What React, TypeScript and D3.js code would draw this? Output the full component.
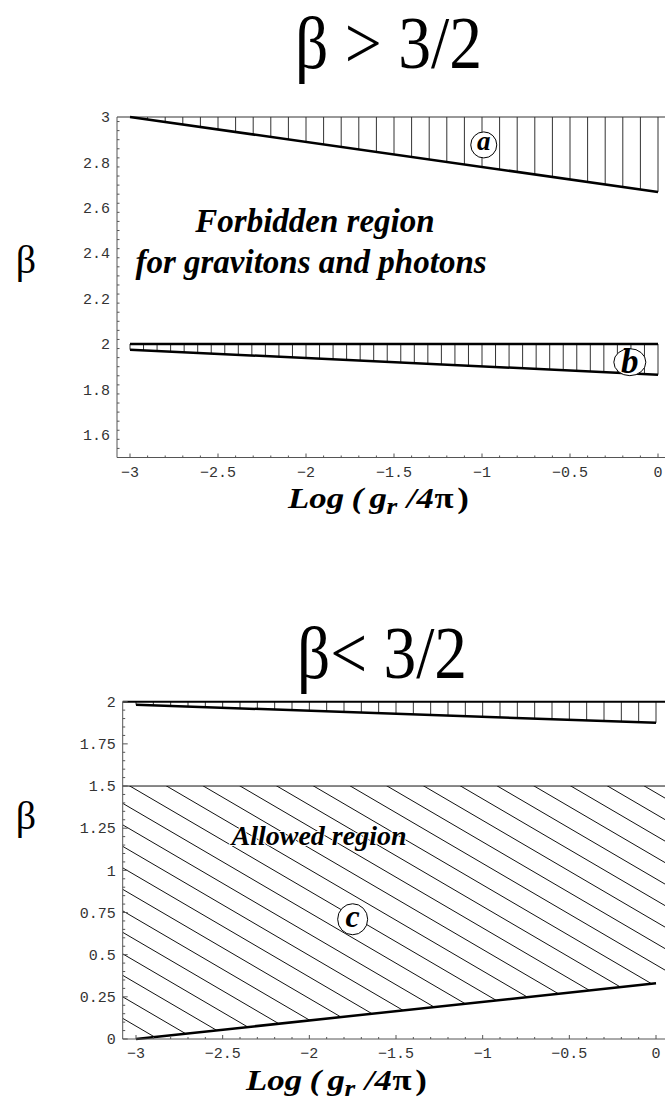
import React, { useEffect, useRef } from 'react';
import { select, scaleLinear, range } from 'd3';

// boundary curves, beta vs log(g_r / 4pi), straight segments between the end points
const logG = [-3, 0];
const topA = [3, 3];
const lowA = [3.0, 2.67];
const topB = [2, 2];
const lowB = [1.975, 1.865];
const topBand = [2, 2];
const lowBand = [1.982, 1.875];
const allowedTop = 1.5;
const lowC = [0, 0.33];

const xTicks = [-3, -2.5, -2, -1.5, -1, -0.5, 0];
const topYTicks = [1.6, 1.8, 2, 2.2, 2.4, 2.6, 2.8, 3];
const bottomYTicks = [0, 0.25, 0.5, 0.75, 1, 1.25, 1.5, 1.75, 2];

const topMarks = [
  { id: 'a', x: -0.99, y: 2.877 },
  { id: 'b', x: -0.16, y: 1.92 },
];
const bottomMarks = [{ id: 'c', x: -1.75, y: 0.71 }];

const W = 665;
const H = 1110;
const SERIF = "'Liberation Serif', 'Times New Roman', serif";
const MONO = "'Liberation Mono', 'Courier New', monospace";

const fmt = (v: number) => (v < 0 ? '\u2212' + String(-v) : String(v));

// ellipse radii, font size and baseline shift of the circled letters
const markStyle: Record<string, { rx: number; ry: number; size: number; dy: number }> = {
  a: { rx: 13, ry: 13, size: 27, dy: 5 },
  b: { rx: 16, ry: 13.5, size: 35, dy: 11 },
  c: { rx: 15, ry: 15.5, size: 32, dy: 8 },
};

export default function App() {
  const svgRef = useRef<SVGSVGElement>(null);

  useEffect(() => {
    if (!svgRef.current) return;
    const svg = select(svgRef.current);
    svg.selectAll('*').remove();

    svg.append('rect').attr('width', W).attr('height', H).attr('fill', '#fff');

    const axisColor = '#555';

    const drawAxes = (
      g: any, x: any, y: any, axisX: number,
      yTicks: number[], yMinorStep: number, fmtY: (v: number) => string
    ) => {
      const [y0, y1] = y.domain();
      const baseY = y(y0);
      g.append('line').attr('x1', axisX).attr('x2', axisX).attr('y1', baseY).attr('y2', y(y1))
        .attr('stroke', axisColor).attr('stroke-width', 1);
      g.append('line').attr('x1', axisX).attr('x2', W).attr('y1', baseY).attr('y2', baseY)
        .attr('stroke', axisColor).attr('stroke-width', 1);

      // x ticks point up into the plot
      range(-3, 0.0001, 0.1).forEach((v: number) => {
        const major = xTicks.some(t => Math.abs(t - v) < 1e-6);
        g.append('line').attr('x1', x(v)).attr('x2', x(v))
          .attr('y1', baseY).attr('y2', baseY - (major ? 4 : 2))
          .attr('stroke', axisColor).attr('stroke-width', 1);
      });
      xTicks.forEach(v => {
        g.append('text').attr('x', x(v)).attr('y', baseY + 19)
          .attr('text-anchor', 'middle').attr('font-family', MONO).attr('font-size', 15)
          .attr('fill', '#333').text(fmt(v));
      });

      // y ticks point right
      range(y0, y1 + 1e-6, yMinorStep).forEach((v: number) => {
        const major = yTicks.some(t => Math.abs(t - v) < 1e-6);
        g.append('line').attr('x1', axisX).attr('x2', axisX + (major ? 5 : 2.5))
          .attr('y1', y(v)).attr('y2', y(v))
          .attr('stroke', axisColor).attr('stroke-width', 1);
      });
      yTicks.forEach(v => {
        g.append('text').attr('x', axisX - 7).attr('y', y(v)).attr('dy', '0.35em')
          .attr('text-anchor', 'end').attr('font-family', MONO).attr('font-size', 15)
          .attr('fill', '#333').text(fmtY(v));
      });
    };

    const boundary = (g: any, x: any, y: any, vals: number[], width: number) => {
      const f = scaleLinear().domain(logG).range(vals);
      g.append('line').attr('x1', x(logG[0])).attr('y1', y(f(logG[0])))
        .attr('x2', x(logG[1])).attr('y2', y(f(logG[1])))
        .attr('stroke', '#000').attr('stroke-width', width);
    };

    const verticalHatch = (g: any, x: any, y: any, upper: number[], lower: number[], step: number) => {
      const fu = scaleLinear().domain(logG).range(upper);
      const fl = scaleLinear().domain(logG).range(lower);
      range(0, Math.round(3 / step) + 1).forEach((i: number) => {
        const v = Math.min(0, -3 + i * step);
        g.append('line').attr('x1', x(v)).attr('x2', x(v))
          .attr('y1', y(fu(v))).attr('y2', y(fl(v)))
          .attr('stroke', '#333').attr('stroke-width', 1);
      });
    };

    const marker = (g: any, x: any, y: any, m: { id: string; x: number; y: number }) => {
      const cx = x(m.x), cy = y(m.y);
      const s = markStyle[m.id];
      g.append('ellipse').attr('cx', cx).attr('cy', cy).attr('rx', s.rx).attr('ry', s.ry)
        .attr('fill', '#fff').attr('stroke', '#000').attr('stroke-width', 1);
      g.append('text').attr('x', cx).attr('y', cy + s.dy)
        .attr('text-anchor', 'middle').attr('font-family', SERIF)
        .attr('font-weight', 'bold').attr('font-style', 'italic')
        .attr('font-size', s.size).text(m.id);
    };

    // "Log ( g_r /4π)" laid out piece by piece, slightly stretched like the original
    const axisLabel = (g: any, x0: number, baseline: number) => {
      const t = g.append('g').attr('transform', `translate(${x0},${baseline}) scale(1.2,1)`)
        .append('text').attr('font-family', SERIF).attr('font-weight', 'bold').attr('font-size', 29);
      t.append('tspan').attr('x', 0).attr('font-style', 'italic').text('Log');
      t.append('tspan').attr('x', 53).attr('font-style', 'italic').text('(');
      t.append('tspan').attr('x', 68).attr('font-style', 'italic').text('g');
      t.append('tspan').attr('x', 82).attr('dy', 6).attr('font-style', 'italic')
        .attr('font-size', 23).text('r');
      t.append('tspan').attr('x', 99).attr('dy', -6).attr('font-style', 'italic').text('/');
      t.append('tspan').attr('x', 107).attr('font-style', 'italic').text('4');
      t.append('tspan').attr('x', 122).text('\u03c0');
      t.append('tspan').attr('x', 141).text(')');
    };

    const title = (text: string, x0: number, width: number, baseline: number, size: number) => {
      svg.append('text').attr('x', x0).attr('y', baseline)
        .attr('font-family', SERIF).attr('font-size', size)
        .attr('textLength', width).attr('lengthAdjust', 'spacingAndGlyphs').text(text);
    };

    const betaLabel = (baseline: number) => {
      svg.append('text').attr('x', 26).attr('y', baseline).attr('text-anchor', 'middle')
        .attr('font-family', SERIF).attr('font-size', 40).text('\u03b2');
    };

    // ---------- top panel: beta > 3/2 ----------
    title('\u03b2 > 3/2', 295, 187, 68, 75);
    betaLabel(273);
    const xT = scaleLinear().domain([-3, 0]).range([130, 658]);
    const yT = scaleLinear().domain([1.5, 3]).range([457.5, 117]);
    const gT = svg.append('g');

    verticalHatch(gT, xT, yT, topA, lowA, 0.1);
    verticalHatch(gT, xT, yT, topB, lowB, 3 / 39);
    gT.append('line').attr('x1', 117).attr('x2', W).attr('y1', yT(3)).attr('y2', yT(3))
      .attr('stroke', '#333').attr('stroke-width', 1);
    boundary(gT, xT, yT, lowA, 2.5);
    boundary(gT, xT, yT, topB, 2.5);
    boundary(gT, xT, yT, lowB, 2.5);
    drawAxes(gT, xT, yT, 117, topYTicks, 0.04, v => String(v));
    topMarks.forEach(m => marker(gT, xT, yT, m));

    gT.append('text').attr('x', 315).attr('y', 232).attr('text-anchor', 'middle')
      .attr('font-family', SERIF).attr('font-size', 33)
      .attr('font-weight', 'bold').attr('font-style', 'italic').text('Forbidden region');
    gT.append('text').attr('x', 311).attr('y', 273).attr('text-anchor', 'middle')
      .attr('font-family', SERIF).attr('font-size', 33)
      .attr('font-weight', 'bold').attr('font-style', 'italic').text('for gravitons and photons');
    axisLabel(gT, 288, 508);

    // ---------- bottom panel: beta < 3/2 ----------
    title('\u03b2< 3/2', 297, 170, 678, 74);
    betaLabel(829);
    const xB = scaleLinear().domain([-3, 0]).range([136, 656]);
    const yB = scaleLinear().domain([0, 2]).range([1039, 701.7]);
    const gB = svg.append('g');
    const axisXB = 122.7;

    verticalHatch(gB, xB, yB, topBand, lowBand, 0.1);

    // diagonal hatching of the allowed region
    const fC = scaleLinear().domain(logG).range(lowC);
    const clipPts = [
      [axisXB, yB(allowedTop)], [W, yB(allowedTop)], [W, yB(fC(0))], [xB(0), yB(fC(0))],
      [xB(-3), yB(fC(-3))], [axisXB, yB(fC(-3))],
    ];
    svg.append('defs').append('clipPath').attr('id', 'allowed')
      .append('polygon').attr('points', clipPts.map(p => p.join(',')).join(' '));
    const slope = 0.585;
    const gap = 21.5;
    const hatch = gB.append('g').attr('clip-path', 'url(#allowed)');
    range(-4, 28).forEach((k: number) => {
      const yl = yB(0.25) - k * gap;
      hatch.append('line').attr('x1', axisXB).attr('y1', yl)
        .attr('x2', W).attr('y2', yl + slope * (W - axisXB))
        .attr('stroke', '#111').attr('stroke-width', 1);
    });

    gB.append('line').attr('x1', axisXB).attr('x2', W).attr('y1', yB(allowedTop)).attr('y2', yB(allowedTop))
      .attr('stroke', '#111').attr('stroke-width', 1);
    gB.append('line').attr('x1', axisXB).attr('x2', W).attr('y1', yB(2)).attr('y2', yB(2))
      .attr('stroke', '#000').attr('stroke-width', 2);
    boundary(gB, xB, yB, lowBand, 2.5);
    boundary(gB, xB, yB, lowC, 2.5);
    drawAxes(gB, xB, yB, axisXB, bottomYTicks, 0.05, v => String(v));
    bottomMarks.forEach(m => marker(gB, xB, yB, m));

    gB.append('text').attr('x', 319).attr('y', 845).attr('text-anchor', 'middle')
      .attr('font-family', SERIF).attr('font-size', 28)
      .attr('font-weight', 'bold').attr('font-style', 'italic')
      .attr('stroke', '#fff').attr('stroke-width', 2).attr('paint-order', 'stroke')
      .text('Allowed region');
    axisLabel(gB, 246, 1090);
  }, []);

  return (
    <svg
      ref={svgRef}
      width={W}
      height={H}
      viewBox={`0 0 ${W} ${H}`}
      style={{ position: 'absolute', left: 0, top: 0, display: 'block' }}
    />
  );
}
